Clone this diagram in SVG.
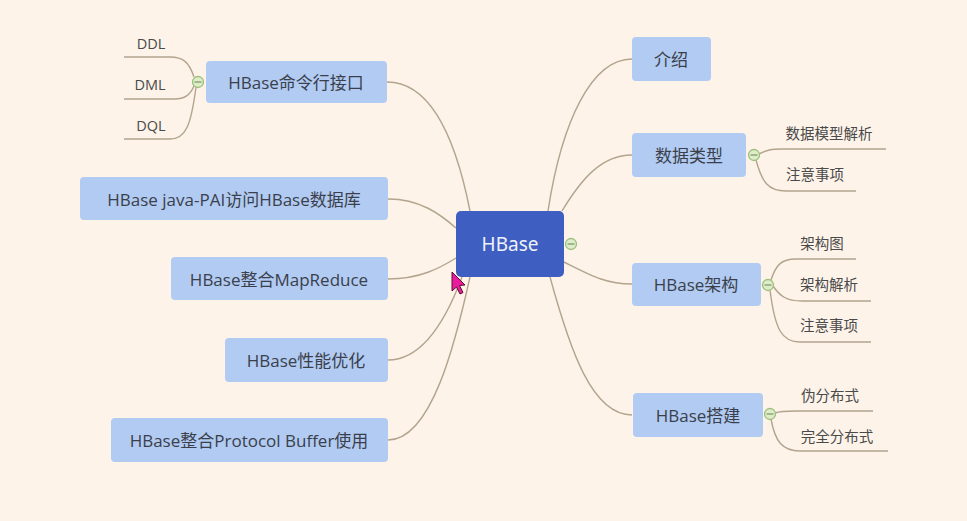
<svg xmlns="http://www.w3.org/2000/svg" width="967" height="521" viewBox="0 0 967 521">
<style>
.bg{fill:#fdf3e9}
.box{fill:#b1cbf2}
.t{font-family:"Open Sans","Noto Sans CJK SC",sans-serif;font-size:17px;fill:#3b3f4c;text-anchor:middle;dominant-baseline:central}
.c{font-family:"Open Sans","Noto Sans CJK SC",sans-serif;font-size:14.5px;fill:#4a4a4a;text-anchor:middle;dominant-baseline:central}
.ln{fill:none;stroke:#b3a48e;stroke-width:1.4}
.col circle{fill:#dfeccb;stroke:#9dbf7c;stroke-width:1.3}
.col line{stroke:#7e9e60;stroke-width:1.3}
</style>
<rect class="bg" x="0" y="0" width="967" height="521"/>
<g id="connectors">
<path class="ln" d="M387,82 C432,82 456,140 470,211"/>
<path class="ln" d="M388,199 C420,199 440,214 456,228"/>
<path class="ln" d="M388,279 C420,279 440,268 456,258"/>
<path class="ln" d="M388,360 C422,360 446,320 462,277"/>
<path class="ln" d="M388,440 C432,440 456,340 470,277"/>
<path class="ln" d="M548,211 C562,120 592,59 632,59"/>
<path class="ln" d="M562,211 C582,178 602,155 632,155"/>
<path class="ln" d="M564,262 C592,276 606,284 632,284"/>
<path class="ln" d="M550,277 C570,350 592,415 632,415"/>
<path class="ln" d="M759,154 C767,150 771,149 782,149 L886,149"/>
<path class="ln" d="M756,160 C762,182 768,191 786,191 L856,191"/>
<path class="ln" d="M771,280 C776,265 781,259 796,259 L856,259"/>
<path class="ln" d="M773,286 C780,296 786,301 802,301 L871,301"/>
<path class="ln" d="M770,290 C775,330 782,342 800,342 L871,342"/>
<path class="ln" d="M775,413 C780,411 786,411 796,411 L873,411"/>
<path class="ln" d="M771,419 C775,441 782,451 800,451 L888,451"/>
<path class="ln" d="M194,77 C189,62 183,57 170,57 L124,57"/>
<path class="ln" d="M194,86 C190,95 185,99 174,99 L124,99"/>
<path class="ln" d="M196,87 C191,125 186,139 170,139 L124,139"/>
</g>
<g id="n-hbase">
<rect x="456" y="211" width="108" height="66" rx="5" fill="#3e5ec1"/>
<text x="510" y="244" font-family="'Noto Sans','Open Sans',sans-serif" font-size="19" fill="#eef2fb" text-anchor="middle" dominant-baseline="central">HBase</text>
<g class="col"><circle cx="571" cy="244" r="5.5"/><line x1="567.5" y1="244" x2="574.5" y2="244"/></g>
</g>
<g id="n-intro">
<rect class="box" x="632" y="37" width="79" height="44" rx="4"/>
<text class="t" x="671" y="59">介绍</text>
</g>
<g id="n-types">
<rect class="box" x="632" y="133" width="114" height="44" rx="4"/>
<text class="t" x="689" y="155">数据类型</text>
<g class="col"><circle cx="754" cy="155" r="5.5"/><line x1="750.5" y1="155" x2="757.5" y2="155"/></g>
</g>
<g id="n-arch">
<rect class="box" x="632" y="263" width="129" height="43" rx="4"/>
<text class="t" x="696" y="284">HBase架构</text>
<g class="col"><circle cx="768" cy="285" r="5.5"/><line x1="764.5" y1="285" x2="771.5" y2="285"/></g>
</g>
<g id="n-setup">
<rect class="box" x="633" y="393" width="130" height="44" rx="4"/>
<text class="t" x="698" y="415">HBase搭建</text>
<g class="col"><circle cx="770" cy="414" r="5.5"/><line x1="766.5" y1="414" x2="773.5" y2="414"/></g>
</g>
<g id="n-cli">
<rect class="box" x="206" y="61" width="181" height="42" rx="4"/>
<text class="t" x="296" y="82">HBase命令行接口</text>
<g class="col"><circle cx="198" cy="82" r="5.5"/><line x1="194.5" y1="82" x2="201.5" y2="82"/></g>
</g>
<g id="n-java">
<rect class="box" x="80" y="177" width="308" height="43" rx="4"/>
<text class="t" x="234" y="199">HBase java-PAI访问HBase数据库</text>
</g>
<g id="n-mr">
<rect class="box" x="171" y="257" width="217" height="43" rx="4"/>
<text class="t" x="279" y="279">HBase整合MapReduce</text>
</g>
<g id="n-perf">
<rect class="box" x="225" y="338" width="163" height="44" rx="4"/>
<text class="t" x="306" y="360">HBase性能优化</text>
</g>
<g id="n-pb">
<rect class="box" x="111" y="418" width="277" height="44" rx="4"/>
<text class="t" x="249" y="440">HBase整合Protocol Buffer使用</text>
</g>
<g id="leaves">
<text class="c" x="151" y="43">DDL</text>
<text class="c" x="150" y="84">DML</text>
<text class="c" x="151" y="125">DQL</text>
<text class="c" x="829" y="133">数据模型解析</text>
<text class="c" x="815" y="174">注意事项</text>
<text class="c" x="822" y="243">架构图</text>
<text class="c" x="829" y="284">架构解析</text>
<text class="c" x="829" y="325">注意事项</text>
<text class="c" x="830" y="395">伪分布式</text>
<text class="c" x="837" y="436">完全分布式</text>
</g>
<path d="M452,272 L452,291 L456.5,287 L460,294 L463,292.5 L459.5,285.5 L465,285 Z" fill="#e81c9c" stroke="#5a1030" stroke-width="1"/>
</svg>
